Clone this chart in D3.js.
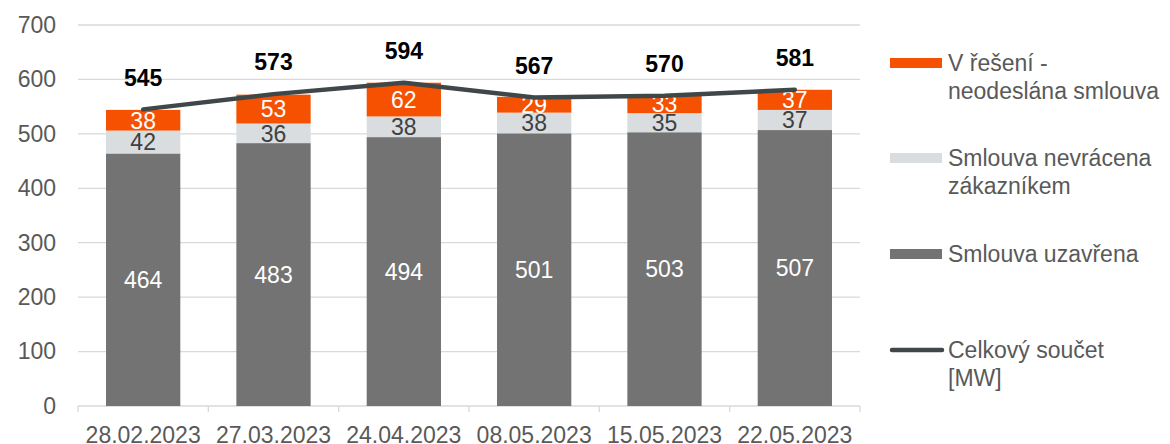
<!DOCTYPE html>
<html>
<head>
<meta charset="utf-8">
<title>Smlouvy</title>
<script src="https://cdn.jsdelivr.net/npm/d3@7"></script>
<style>
    body { margin: 0; background: #fff; }
    text { font-family: "Liberation Sans", Arial, sans-serif; }
</style>
</head>
<body>
<script>
    var dates = ['28.02.2023', '27.03.2023', '24.04.2023', '08.05.2023', '15.05.2023', '22.05.2023'];
    var uzavrena = [464, 483, 494, 501, 503, 507];
    var nevracena = [42, 36, 38, 38, 35, 37];
    var vReseni = [38, 53, 62, 29, 33, 37];
    var celkem = [545, 573, 594, 567, 570, 581];
    var yTicks = [0, 100, 200, 300, 400, 500, 600, 700];

    var width = 1170, height = 444;
    var mLeft = 78, mRight = 860, mTop = 25, mBottom = 406;
    var fs = '23px';

    var svg = d3.select('body').append('svg')
        .attr('width', width)
        .attr('height', height);

    var x = d3.scaleBand()
        .domain(dates)
        .range([mLeft, mRight])
        .paddingInner(0.43)
        .paddingOuter(0.215);

    var y = d3.scaleLinear()
        .domain([0, 700])
        .range([mBottom, mTop]);

    // grid
    svg.append('g')
        .selectAll('line')
        .data(yTicks.slice(1)).enter()
        .append('line')
        .attr('x1', mLeft).attr('x2', mRight)
        .attr('y1', function(d) { return y(d); })
        .attr('y2', function(d) { return y(d); })
        .style('stroke', '#d9d9d9')
        .style('stroke-width', 1.3);

    var yax = d3.axisLeft(y).tickValues(yTicks).tickSize(0).tickPadding(22);
    svg.append('g')
        .attr('transform', 'translate(' + mLeft + ',0)')
        .call(yax)
        .call(function(g) { g.select('.domain').remove(); })
        .selectAll('text')
        .style('font-size', fs)
        .style('font-family', '"Liberation Sans", Arial, sans-serif')
        .style('fill', '#595959');

    // x axis with ticks at category boundaries
    var xg = svg.append('g').attr('transform', 'translate(0,' + mBottom + ')');
    xg.append('line')
        .attr('x1', mLeft).attr('x2', mRight)
        .style('stroke', '#d9d9d9').style('stroke-width', 1.3);
    var bounds = d3.range(dates.length + 1).map(function(i) { return mLeft + i * x.step() - x.step() * 0.0; });
    bounds = bounds.map(function(d, i) { return mLeft + i * (mRight - mLeft) / dates.length; });
    xg.selectAll('line.tk')
        .data(bounds).enter()
        .append('line')
        .attr('class', 'tk')
        .attr('x1', function(d) { return d; }).attr('x2', function(d) { return d; })
        .attr('y1', 0).attr('y2', 6)
        .style('stroke', '#d9d9d9').style('stroke-width', 1.3);
    xg.selectAll('text')
        .data(dates).enter()
        .append('text')
        .attr('x', function(d) { return x(d) + x.bandwidth() / 2; })
        .attr('y', 37)
        .attr('text-anchor', 'middle')
        .style('font-size', fs)
        .style('fill', '#595959')
        .text(function(d) { return d; });

    // stacked bars
    var series = [
        { name: 'Smlouva uzavřena', values: uzavrena, color: '#737373', text: '#ffffff' },
        { name: 'Smlouva nevrácena zákazníkem', values: nevracena, color: '#d9dde0', text: '#404040' },
        { name: 'V řešení - neodeslána smlouva', values: vReseni, color: '#f55100', text: '#ffffff' }
    ];

    var base = dates.map(function() { return 0; });
    series.forEach(function(s) {
        var rows = dates.map(function(d, i) {
            return { date: d, v: s.values[i], y0: base[i], y1: base[i] + s.values[i] };
        });
        rows.forEach(function(r, i) { base[i] = r.y1; });
        var g = svg.append('g');
        g.selectAll('rect')
            .data(rows).enter()
            .append('rect')
            .attr('x', function(d) { return x(d.date); })
            .attr('width', x.bandwidth())
            .attr('y', function(d) { return y(d.y1); })
            .attr('height', function(d) { return y(d.y0) - y(d.y1); })
            .style('fill', s.color);
        g.selectAll('text')
            .data(rows).enter()
            .append('text')
            .attr('x', function(d) { return x(d.date) + x.bandwidth() / 2; })
            .attr('y', function(d) { return (y(d.y0) + y(d.y1)) / 2; })
            .attr('dy', '0.36em')
            .attr('text-anchor', 'middle')
            .style('font-size', fs)
            .style('fill', s.text)
            .text(function(d) { return d.v; });
    });

    // total line
    var line = d3.line()
        .x(function(d, i) { return x(dates[i]) + x.bandwidth() / 2; })
        .y(function(d) { return y(d); });
    svg.append('path')
        .datum(celkem)
        .attr('d', line)
        .style('fill', 'none')
        .style('stroke', '#404749')
        .style('stroke-width', 4.5)
        .style('stroke-linecap', 'round')
        .style('stroke-linejoin', 'round');

    svg.append('g')
        .selectAll('text')
        .data(celkem).enter()
        .append('text')
        .attr('x', function(d, i) { return x(dates[i]) + x.bandwidth() / 2; })
        .attr('y', function(d) { return y(d) - 32; })
        .attr('dy', '0.36em')
        .attr('text-anchor', 'middle')
        .style('font-size', fs)
        .style('font-weight', 'bold')
        .style('fill', '#000')
        .text(function(d) { return d; });

    // legend
    var legendItems = [
        { lines: ['V řešení -', 'neodeslána smlouva'], color: '#f55100', type: 'rect', y: 63 },
        { lines: ['Smlouva nevrácena', 'zákazníkem'], color: '#d9dde0', type: 'rect', y: 158 },
        { lines: ['Smlouva uzavřena'], color: '#737373', type: 'rect', y: 254 },
        { lines: ['Celkový součet', '[MW]'], color: '#404749', type: 'line', y: 350 }
    ];
    var lg = svg.append('g').selectAll('g')
        .data(legendItems).enter()
        .append('g')
        .attr('transform', function(d) { return 'translate(890,' + d.y + ')'; });
    lg.filter(function(d) { return d.type === 'rect'; })
        .append('rect')
        .attr('x', 0).attr('y', -5)
        .attr('width', 52).attr('height', 10)
        .style('fill', function(d) { return d.color; });
    lg.filter(function(d) { return d.type === 'line'; })
        .append('line')
        .attr('x1', 2).attr('x2', 52)
        .style('stroke', function(d) { return d.color; })
        .style('stroke-width', 4.5)
        .style('stroke-linecap', 'round');
    lg.each(function(d) {
        var t = d3.select(this).append('text')
            .attr('x', 58)
            .style('font-size', fs)
            .style('fill', '#595959');
        d.lines.forEach(function(l, i) {
            t.append('tspan')
                .attr('x', 58)
                .attr('y', i * 28)
                .attr('dy', '0.36em')
                .text(l);
        });
    });
</script>
</body>
</html>
